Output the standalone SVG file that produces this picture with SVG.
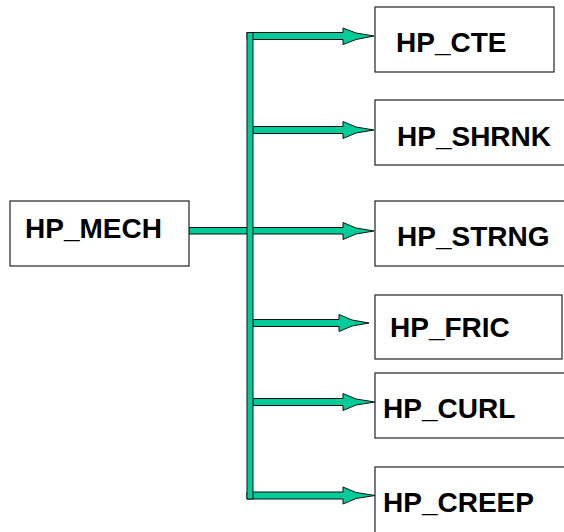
<svg xmlns="http://www.w3.org/2000/svg" width="564" height="532" viewBox="0 0 564 532">
<style>
.box{fill:#fff;stroke:#222;stroke-width:1.2}
.lbl{font-family:"Liberation Sans",Arial,sans-serif;font-weight:bold;font-size:28px;fill:#000}
.conn{fill:#00CC99;stroke:#111;stroke-width:1}
</style>
<rect width="564" height="532" fill="#fff"/>
<g id="connectors">
<path class="conn" d="M247,32.5 H343 V28 L356,33 L374,36 L356,39.5 L343,44.5 V39.5 H247 Z"/>
<path class="conn" d="M253,126.5 H343 V121.5 L356,127 L374,130 L356,133 L343,138.5 V133.5 H253 Z"/>
<path class="conn" d="M189,227.5 H343 V222.5 L356,228 L374,231 L356,234 L343,239.5 V234 H189 Z"/>
<path class="conn" d="M253,319.5 H339 V314.5 L352,320 L369,323 L352,326 L339,331.5 V326.5 H253 Z"/>
<path class="conn" d="M253,398.5 H343 V393.5 L356,399 L375,402 L356,405 L343,410.5 V405.5 H253 Z"/>
<path class="conn" d="M247,492 H343 V487 L356,492.5 L375,495.5 L356,498.5 L343,504 V499 H247 Z"/>
<rect class="conn" x="247" y="32.5" width="6" height="466.5"/>
</g>
<g id="HP_MECH"><rect class="box" x="10" y="201" width="179" height="65"/><text class="lbl" x="25" y="238">HP_MECH</text></g>
<g id="HP_CTE"><rect class="box" x="375" y="7" width="179" height="65"/><text class="lbl" x="396" y="52">HP_CTE</text></g>
<g id="HP_SHRNK"><rect class="box" x="375" y="100" width="200" height="65"/><text class="lbl" x="397" y="146">HP_SHRNK</text></g>
<g id="HP_STRNG"><rect class="box" x="375" y="201" width="200" height="65"/><text class="lbl" x="397" y="246">HP_STRNG</text></g>
<g id="HP_FRIC"><rect class="box" x="375" y="295" width="187" height="64"/><text class="lbl" x="390" y="337">HP_FRIC</text></g>
<g id="HP_CURL"><rect class="box" x="375" y="373" width="200" height="65"/><text class="lbl" x="383" y="418">HP_CURL</text></g>
<g id="HP_CREEP"><rect class="box" x="375" y="467" width="200" height="70"/><text class="lbl" x="383" y="512">HP_CREEP</text></g>
</svg>
